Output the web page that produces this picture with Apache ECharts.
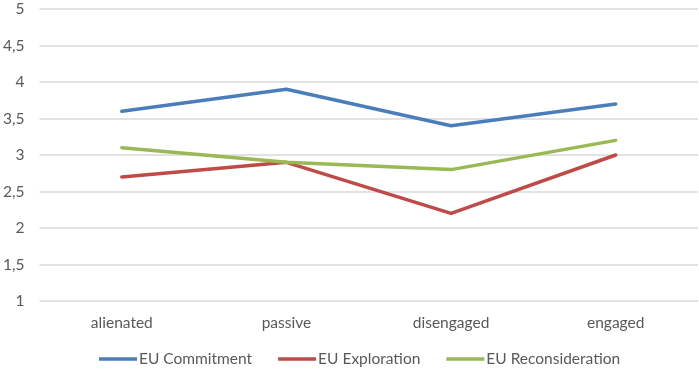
<!DOCTYPE html>
<html><head><meta charset="utf-8">
<script src="https://cdn.jsdelivr.net/npm/echarts@6/dist/echarts.min.js"></script>
<style>html,body{margin:0;padding:0;background:#fff}#c{width:699px;height:369px}</style>
</head><body><div id="c"></div>
<script>
const categories = ['alienated', 'passive', 'disengaged', 'engaged'];
const commitment = [3.6, 3.9, 3.4, 3.7];
const exploration = [2.7, 2.9, 2.2, 3.0];
const reconsideration = [3.1, 2.9, 2.8, 3.2];
const seriesNames = ['EU Commitment', 'EU Exploration', 'EU Reconsideration'];
const colors = ['#4A7EBB', '#BE4B48', '#98B954'];
const font = 'Lato, "Open Sans", sans-serif';

const chart = echarts.init(document.getElementById('c'));
const mk = (name, data, color) => ({
  name, type: 'line', data, symbol: 'none', smooth: false,
  lineStyle: { color, width: 3.5, cap: 'round', join: 'round' }, itemStyle: { color }
});
chart.setOption({
  animation: false,
  color: colors,
  grid: { left: 38, right: 1, top: 9, bottom: 68 },
  xAxis: {
    type: 'category', data: categories, boundaryGap: true,
    axisLine: { show: false }, axisTick: { show: false },
    axisLabel: { color: '#595959', fontFamily: font, fontSize: 15.5, margin: 14 }
  },
  yAxis: {
    type: 'value', min: 1, max: 5, interval: 0.5,
    axisLine: { show: false }, axisTick: { show: false },
    splitLine: { lineStyle: { color: '#D9D9D9', width: 1.5 } },
    axisLabel: { color: '#595959', fontFamily: font, fontSize: 15.5, margin: 15,
      formatter: v => String(v).replace('.', ',') }
  },
  legend: {
    left: 94, top: 346, icon: 'rect', itemWidth: 38, itemHeight: 3.5, itemGap: 26,
    textStyle: { color: '#595959', fontFamily: font, fontSize: 15.5, padding: [0, 0, 0, -3] },
    data: seriesNames
  },
  series: [
    mk(seriesNames[0], commitment, colors[0]),
    mk(seriesNames[1], exploration, colors[1]),
    mk(seriesNames[2], reconsideration, colors[2])
  ]
});
</script></body></html>
